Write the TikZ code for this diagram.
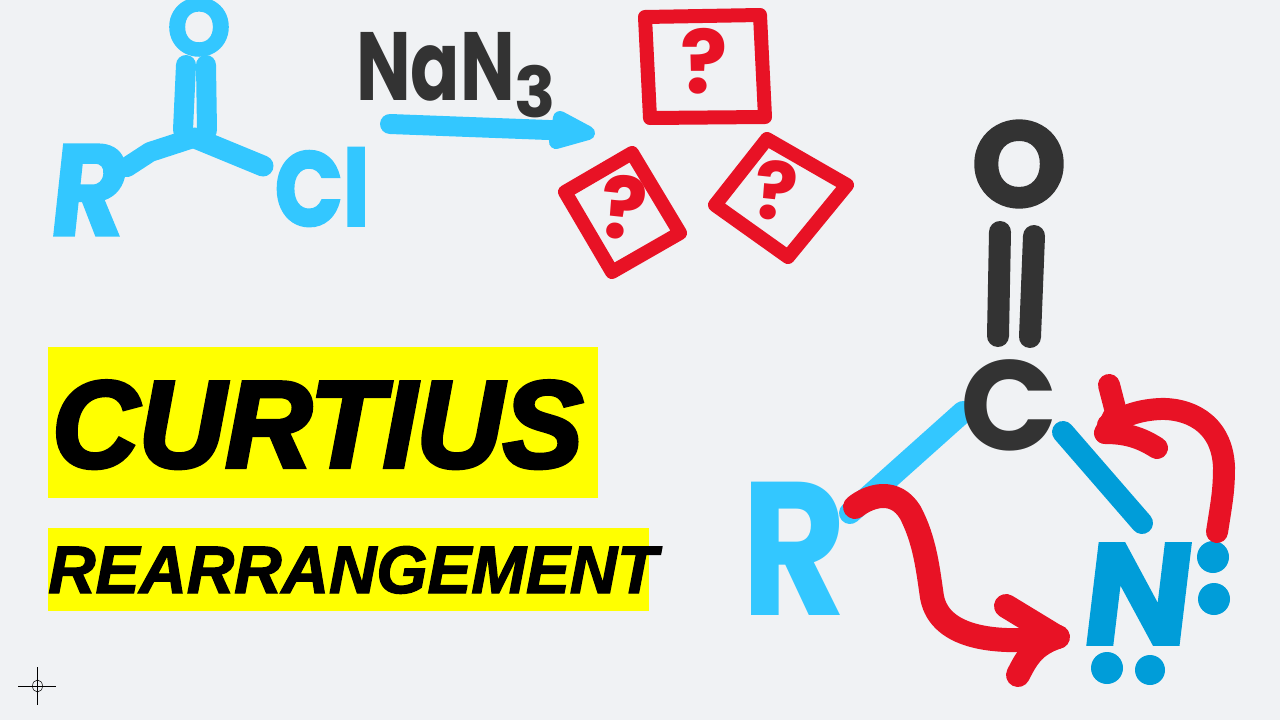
\documentclass[tikz,border=0pt]{standalone}
\usepackage{fontspec}
\setmainfont{Liberation Sans}
\newfontfamily\handfont{Poppins}
\newfontfamily\handheavy{Poppins}[FakeBold=2.5]
\newfontfamily\handslant{Poppins}[FakeSlant=0.12,FakeBold=1.5]
\newfontfamily\titlefont{Liberation Sans}[FakeBold=3.5]
\newfontfamily\subtitlefont{Liberation Sans}[FakeBold=2]
\usetikzlibrary{positioning}
\definecolor{paper}{HTML}{F0F2F4}
\definecolor{skyink}{HTML}{33C7FF}
\definecolor{deepink}{HTML}{009DD9}
\definecolor{redink}{HTML}{E81225}
\definecolor{darkink}{HTML}{333333}
\definecolor{marker}{HTML}{FFFF00}
\begin{document}
\begin{tikzpicture}[
    x=1pt, y=-1pt,
    pen/.style={line cap=round, line join=round, line width=#1},
    pen/.default=20pt,
    letter/.style={inner sep=0pt, transform shape, font=\handfont\bfseries},
    titleword/.style={inner sep=0pt, text=black, transform shape},
    qmark/.style={letter, text=redink},
  ]
    \useasboundingbox (0,0) rectangle (1280,720);
    \fill[paper] (0,0) rectangle (1280,720);

    % title
    \fill[marker] (48,347) rectangle (598,498);
    \fill[marker] (48,528) rectangle (649,611);
    \node[titleword, anchor=base west, xscale=.975] (curtius) at (52,467) {\titlefont\bfseries\itshape\fontsize{123}{123}\selectfont CURTIUS};
    \node[titleword, anchor=base west, xscale=.98] (rearr) at (48,593) {\subtitlefont\bfseries\itshape\fontsize{67}{67}\selectfont REARRANGEMENT};

    % acid chloride
    \draw[pen=20pt, skyink] (186,65) -- (183,130);
    \draw[pen=20pt, skyink] (206,65) -- (207,130);
    \draw[pen=20pt, skyink] (193,138) -- (150,152) -- (127,167);
    \draw[pen=21pt, skyink] (195,138) -- (263,166);
    \node[letter, text=skyink] (acylo) at (199,27) {\handheavy\bfseries\fontsize{80}{80}\selectfont O};
    \node[letter, text=skyink, xscale=.9] (acylr) at (85,190) {\handslant\bfseries\fontsize{130}{130}\selectfont R};
    \node[letter, text=skyink, xscale=.85] (acylcl) at (322,187) {\handheavy\bfseries\fontsize{105}{105}\selectfont Cl};

    % reagent
    \node[letter, text=darkink, xscale=.75, anchor=base west] (nan) at (356,100) {\fontsize{97}{97}\selectfont NaN\raisebox{-17pt}{\scalebox{1.3}[1]{\fontsize{70}{70}\selectfont 3}}};
    \draw[pen=20pt, skyink] (390,124) -- (575,131);
    \fill[skyink, pen=14pt, draw=skyink] (560,118) -- (588,133) -- (556,142) -- cycle;

    % unknown products
    \draw[pen=14pt, redink] (645,17) -- (760,15) -- (765,117) -- (650,118) -- cycle;
    \draw[pen=14pt, redink] (565,192) -- (632,153) -- (680,233) -- (612,272) -- cycle;
    \draw[pen=14pt, redink] (715,205) -- (767,139) -- (847,185) -- (788,257) -- cycle;
    \node[qmark] (qa) at (704,61) {\fontsize{88}{88}\selectfont ?};
    \node[qmark, rotate=-6] (qb) at (624,208) {\fontsize{86}{86}\selectfont ?};
    \node[qmark, rotate=-6] (qc) at (776,191) {\fontsize{80}{80}\selectfont ?};

    % isocyanate side
    \node[letter, text=darkink] (oxy) at (1019,164) {\handheavy\bfseries\fontsize{120}{120}\selectfont O};
    \draw[pen=22pt, darkink] (1000,232) -- (998,336);
    \draw[pen=22pt, darkink] (1034,236) -- (1030,337);
    \draw[pen=22pt, skyink] (850,513) -- (963,412);
    \draw[pen=22pt, deepink] (1063,432) -- (1142,523);
    \node[letter, text=darkink] (carb) at (1009,405) {\fontsize{128}{128}\selectfont C};
    \node[letter, text=skyink, xscale=.85] (group) at (794,549) {\fontsize{190}{190}\selectfont R};
    \node[letter, text=deepink] (nitro) at (1133,594) {\handslant\bfseries\fontsize{145}{145}\selectfont N};
    \fill[deepink] (1213,557) circle (16);
    \fill[deepink] (1214,599) circle (16);
    \fill[deepink] (1107,668) circle (16);
    \fill[deepink] (1150,670) circle (15);

    % electron arrows
    \draw[pen=24pt, redink] (855,507) .. controls (870,495) and (895,488) .. (910,512) .. controls (925,540) and (928,570) .. (932,597) .. controls (940,640) and (1000,645) .. (1058,637);
    \draw[pen=24pt, redink] (1006,606) -- (1057,637) .. controls (1035,645) and (1028,655) .. (1018,675);
    \draw[pen=22pt, redink] (1217,532) .. controls (1222,500) and (1224,490) .. (1224,467) .. controls (1222,420) and (1185,408) .. (1160,409) .. controls (1140,410) and (1125,415) .. (1108,425);
    \draw[pen=22pt, redink] (1109,385) -- (1116,412) -- (1105,433) .. controls (1125,433) and (1140,437) .. (1157,448);

    % cursor
    \draw[line width=.8pt, black] (18,686) -- (56,686) (37.5,667) -- (37.5,705);
    \draw[line width=.5pt, black] (37.5,686) ellipse (5 and 6);
\end{tikzpicture}
\end{document}
